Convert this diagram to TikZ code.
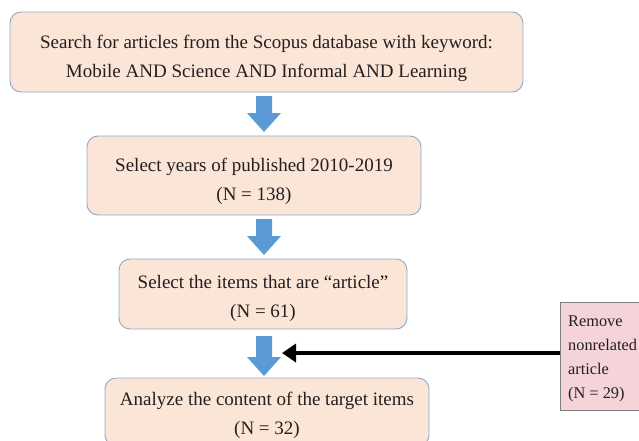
\documentclass[tikz,border=0pt]{standalone}
\usepackage{fontspec}
\setmainfont{Liberation Serif}
\usetikzlibrary{arrows.meta,calc}
\definecolor{peach}{HTML}{FBE5D6}
\definecolor{boxline}{HTML}{8EA9C8}
\definecolor{arrowblue}{HTML}{5B9BD5}
\definecolor{pinkfill}{HTML}{F4D3D9}
\definecolor{pinkline}{HTML}{7F7F7F}
\definecolor{txt}{HTML}{231F20}
\begin{document}
\begin{tikzpicture}[x=1pt,y=-1pt,
  stepbox/.style={draw=boxline, line width=0.9pt, fill=peach, rounded corners=11pt,
    inner sep=0pt},
  steptext/.style={align=center, text=txt, inner sep=0pt,
    font=\fontsize{19}{29}\selectfont},
  notebox/.style={draw=pinkline, line width=0.9pt, fill=pinkfill, inner sep=0pt},
  blockarrow/.style={fill=arrowblue}]
\useasboundingbox (0,0) rectangle (639,440);
\node[stepbox, minimum width=513pt, minimum height=80pt] (b1) at (266.5,52) {};
\node[steptext] (t1) at (266.5,58)
  {Search for articles from the Scopus database with keyword:\\Mobile AND Science AND Informal AND Learning};
\node[stepbox, minimum width=334pt, minimum height=79pt] (b2) at (254,175.5) {};
\node[steptext] (t2) at (254,181) {Select years of published 2010-2019\\(N = 138)};
\node[stepbox, minimum width=288pt, minimum height=70pt] (b3) at (263,294) {};
\node[steptext] (t3) at (263,298.5) {Select the items that are “article”\\(N = 61)};
\node[stepbox, minimum width=324pt, minimum height=68pt] (b4) at (267,412) {};
\node[steptext] (t4) at (267,415) {Analyze the content of the target items\\(N = 32)};
\node[notebox, minimum width=90pt, minimum height=108pt] (rm) at (605,356) {};
\node[anchor=north west, align=left, text=txt, inner sep=0pt,
  font=\fontsize{16.3}{24}\selectfont] (rmtext) at (568,315.5)
  {Remove\\nonrelated\\article\\(N = 29)};
\foreach \t/\b in {96/132, 219/255, 336/376} {
  \fill[blockarrow] (256,\t) -- (272,\t) -- (272,\b-19) -- (281,\b-19) -- (264,\b)
    -- (247,\b-19) -- (256,\b-19) -- cycle;
}
\coordinate (tip) at (282,353);
\draw[line width=4.5pt, -{Triangle[length=14pt,width=18pt]}] (rm.west |- tip) -- (tip);
\end{tikzpicture}
\end{document}
